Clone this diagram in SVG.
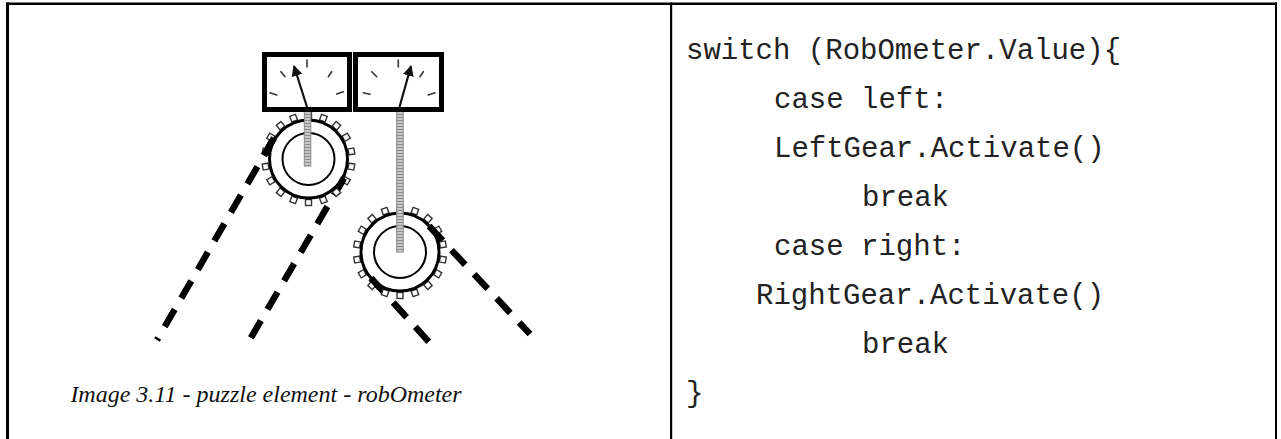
<svg xmlns="http://www.w3.org/2000/svg" xmlns:xlink="http://www.w3.org/1999/xlink" width="1281" height="439" viewBox="0 0 1281 439">
  <style>
    .rule { fill: #000; }
    .frame { fill: #fff; stroke: #000; stroke-width: 5; }
    .tick { stroke: #333; stroke-width: 1.6; stroke-linecap: round; }
    .needle { stroke: #111; stroke-width: 2.2; }
    .rim { fill: #fff; stroke: #000; stroke-width: 3; }
    .hub { fill: none; stroke: #000; stroke-width: 2; }
    .tooth { fill: #fff; stroke: #333; stroke-width: 1.4; }
    .rod { fill: url(#coil); stroke: #8a8a8a; stroke-width: 1; }
    .belt { stroke: #000; stroke-width: 6.5; stroke-dasharray: 20 13; fill: none; }
    .code { font-family: "Liberation Mono", "Courier New", monospace; font-size: 29px; fill: #222; }
    .caption { font-family: "Liberation Serif", "Times New Roman", serif; font-style: italic; font-size: 24px; fill: #111; }
  </style>
  <defs>
    <pattern id="coil" width="6" height="3" patternUnits="userSpaceOnUse">
      <rect width="6" height="3" fill="#c8c8c8"/>
      <rect width="6" height="1" fill="#8c8c8c"/>
    </pattern>
    <rect id="tooth" x="-3" y="-46.5" width="6" height="6"/>
    <marker id="tip" viewBox="0 0 10 10" refX="9" refY="5" markerWidth="5" markerHeight="5" orient="auto" markerUnits="strokeWidth">
      <path d="M0,0 L10,5 L0,10 z" fill="#111"/>
    </marker>
  </defs>

  <rect width="1281" height="439" fill="#fff"/>

  <!-- table rules -->
  <g id="table">
    <rect class="rule" x="6" y="2.5" width="1271" height="2.5"/>
    <rect class="rule" x="6" y="2.5" width="3" height="437"/>
    <rect class="rule" x="670" y="2.5" width="2.2" height="437"/>
    <rect class="rule" x="1275" y="2.5" width="2" height="437"/>
  </g>

  <!-- belts -->
  <g id="connectors">
    <line class="belt" x1="274" y1="138" x2="157" y2="340"/>
    <line class="belt" x1="344" y1="178" x2="249" y2="341"/>
    <line class="belt" x1="429" y1="226" x2="530" y2="334"/>
    <line class="belt" x1="371" y1="278" x2="429" y2="342"/>
  </g>

  <!-- left gear -->
  <g id="gear-left">
    <g transform="translate(308.5,159)">
      <g class="tooth">
        <use xlink:href="#tooth"/>
        <use xlink:href="#tooth" transform="rotate(20)"/>
        <use xlink:href="#tooth" transform="rotate(40)"/>
        <use xlink:href="#tooth" transform="rotate(60)"/>
        <use xlink:href="#tooth" transform="rotate(80)"/>
        <use xlink:href="#tooth" transform="rotate(100)"/>
        <use xlink:href="#tooth" transform="rotate(120)"/>
        <use xlink:href="#tooth" transform="rotate(140)"/>
        <use xlink:href="#tooth" transform="rotate(160)"/>
        <use xlink:href="#tooth" transform="rotate(180)"/>
        <use xlink:href="#tooth" transform="rotate(200)"/>
        <use xlink:href="#tooth" transform="rotate(220)"/>
        <use xlink:href="#tooth" transform="rotate(240)"/>
        <use xlink:href="#tooth" transform="rotate(260)"/>
        <use xlink:href="#tooth" transform="rotate(280)"/>
        <use xlink:href="#tooth" transform="rotate(300)"/>
        <use xlink:href="#tooth" transform="rotate(320)"/>
        <use xlink:href="#tooth" transform="rotate(340)"/>
      </g>
      <circle class="rim" r="39"/>
      <circle class="hub" r="26"/>
    </g>
    <!-- belt run over the rim -->
    <line class="belt" x1="274" y1="138" x2="264" y2="155.3" style="stroke-dasharray:none"/>
    <line class="belt" x1="344" y1="178" x2="338" y2="188.3" style="stroke-dasharray:none"/>
  </g>

  <!-- right gear -->
  <g id="gear-right">
    <g transform="translate(400,252)">
      <g class="tooth">
        <use xlink:href="#tooth"/>
        <use xlink:href="#tooth" transform="rotate(20)"/>
        <use xlink:href="#tooth" transform="rotate(40)"/>
        <use xlink:href="#tooth" transform="rotate(60)"/>
        <use xlink:href="#tooth" transform="rotate(80)"/>
        <use xlink:href="#tooth" transform="rotate(100)"/>
        <use xlink:href="#tooth" transform="rotate(120)"/>
        <use xlink:href="#tooth" transform="rotate(140)"/>
        <use xlink:href="#tooth" transform="rotate(160)"/>
        <use xlink:href="#tooth" transform="rotate(180)"/>
        <use xlink:href="#tooth" transform="rotate(200)"/>
        <use xlink:href="#tooth" transform="rotate(220)"/>
        <use xlink:href="#tooth" transform="rotate(240)"/>
        <use xlink:href="#tooth" transform="rotate(260)"/>
        <use xlink:href="#tooth" transform="rotate(280)"/>
        <use xlink:href="#tooth" transform="rotate(300)"/>
        <use xlink:href="#tooth" transform="rotate(320)"/>
        <use xlink:href="#tooth" transform="rotate(340)"/>
      </g>
      <circle class="rim" r="39"/>
      <circle class="hub" r="26"/>
    </g>
    <line class="belt" x1="429" y1="226" x2="442" y2="240" style="stroke-dasharray:none"/>
    <line class="belt" x1="371" y1="278" x2="380" y2="288" style="stroke-dasharray:none"/>
  </g>

  <!-- coiled rods from meters to gear hubs -->
  <g id="rods">
    <rect class="rod" x="304.3" y="111" width="6.5" height="55"/>
    <rect class="rod" x="396.7" y="111" width="6.5" height="141"/>
  </g>

  <!-- left meter -->
  <g id="meter-left">
    <rect class="frame" x="264.5" y="54.5" width="85" height="55"/>
    <line class="tick" x1="307" y1="60" x2="307" y2="67"/>
    <line class="tick" x1="281" y1="71.7" x2="285" y2="76.7"/>
    <line class="tick" x1="270" y1="92.7" x2="276.7" y2="95"/>
    <line class="tick" x1="331.7" y1="71.7" x2="328.3" y2="76.7"/>
    <line class="tick" x1="336.7" y1="94" x2="343.3" y2="91.7"/>
    <line class="needle" x1="307" y1="107" x2="294" y2="66" marker-end="url(#tip)"/>
  </g>

  <!-- right meter -->
  <g id="meter-right">
    <rect class="frame" x="355.5" y="54.5" width="86" height="55"/>
    <line class="tick" x1="398.3" y1="60" x2="398.3" y2="67"/>
    <line class="tick" x1="371.7" y1="71.7" x2="376.7" y2="76.7"/>
    <line class="tick" x1="363.3" y1="92.7" x2="370" y2="94.3"/>
    <line class="tick" x1="423.3" y1="71.7" x2="420" y2="76.7"/>
    <line class="tick" x1="428.3" y1="95" x2="435" y2="92.7"/>
    <line class="needle" x1="399.5" y1="107" x2="411" y2="66" marker-end="url(#tip)"/>
  </g>

  <text id="caption" class="caption" x="266" y="402" text-anchor="middle">Image 3.11 - puzzle element - robOmeter</text>

  <!-- switch listing -->
  <g id="listing" class="code">
    <text x="686" y="59">switch (RobOmeter.Value){</text>
    <text x="774" y="108">case left:</text>
    <text x="774" y="157">LeftGear.Activate()</text>
    <text x="862" y="206">break</text>
    <text x="774" y="255">case right:</text>
    <text x="756" y="304">RightGear.Activate()</text>
    <text x="862" y="353">break</text>
    <text x="686" y="402">}</text>
  </g>
</svg>
